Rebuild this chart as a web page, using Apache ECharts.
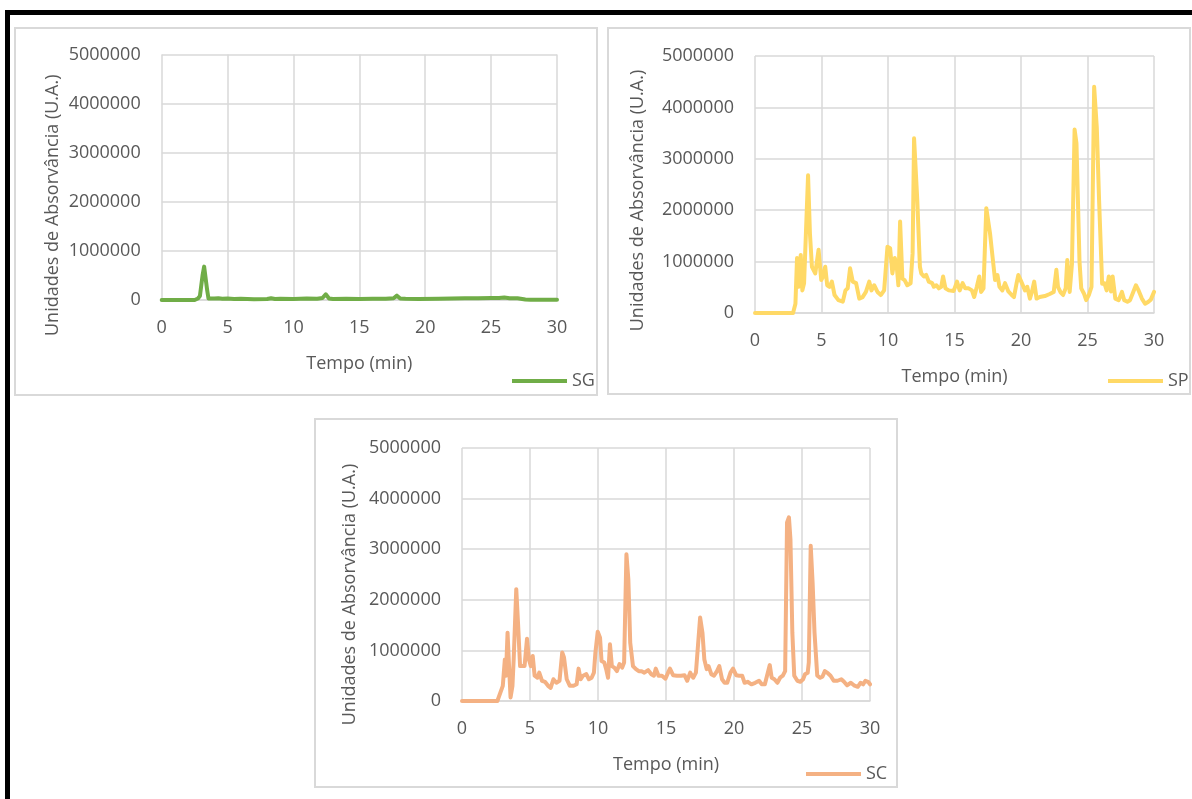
<!DOCTYPE html>
<html>
<head>
<meta charset="utf-8">
<script src="https://cdn.jsdelivr.net/npm/echarts@6/dist/echarts.min.js"></script>
<style>
html,body{margin:0;padding:0;background:#fff;}
#chart{width:1192px;height:799px;}
</style>
</head>
<body>
<div id="chart"></div>
<script>
// ---- Data ----
const seriesNames = ['SG', 'SP', 'SC'];
const xAxisTitle = 'Tempo (min)';
const yAxisTitle = 'Unidades de Absorvância (U.A.)';

const sgTime = [0, 1, 2, 2.5, 2.75, 2.9, 3.1, 3.22, 3.33, 3.45, 3.55, 3.7, 4.0, 4.3, 4.6, 5.0, 5.5, 6.0, 7.0, 8.0, 8.3, 8.6, 9.0, 10.0, 11.0, 11.8, 12.2, 12.45, 12.7, 13.0, 14.0, 15.0, 16.0, 17.0, 17.6, 17.85, 18.1, 18.5, 19.5, 21.0, 22.0, 23.0, 24.0, 25.0, 25.6, 26.0, 26.4, 27.0, 27.6, 28.0, 29.0, 30.0];
const sgValues = [0, 0, 0, 0, 30000, 80000, 500000, 680000, 660000, 200000, 30000, 40000, 30000, 35000, 25000, 30000, 20000, 25000, 15000, 20000, 35000, 20000, 25000, 20000, 30000, 25000, 40000, 115000, 30000, 20000, 25000, 20000, 25000, 25000, 35000, 88000, 30000, 25000, 20000, 25000, 30000, 35000, 38000, 40000, 42000, 50000, 35000, 35000, 10000, 5000, 5000, 5000];

const spTime = [0, 1, 2, 2.86, 3.04, 3.16, 3.29, 3.44, 3.56, 3.69, 3.99, 4.13, 4.28, 4.53, 4.78, 4.98, 5.1, 5.28, 5.43, 5.6, 5.78, 5.98, 6.27, 6.6, 6.8, 6.97, 7.15, 7.35, 7.6, 7.84, 8.09, 8.34, 8.59, 8.76, 8.96, 9.21, 9.46, 9.71, 9.96, 10.16, 10.33, 10.51, 10.66, 10.78, 10.91, 11.08, 11.25, 11.45, 11.7, 11.85, 11.96, 12.2, 12.4, 12.5, 12.7, 12.87, 13.07, 13.32, 13.45, 13.64, 13.82, 14.0, 14.14, 14.32, 14.57, 14.94, 15.19, 15.39, 15.61, 15.81, 16.06, 16.31, 16.48, 16.68, 16.86, 17.0, 17.18, 17.39, 17.67, 17.9, 18.05, 18.23, 18.38, 18.6, 18.8, 19.05, 19.3, 19.47, 19.67, 19.8, 19.97, 20.1, 20.3, 20.47, 20.67, 20.82, 20.99, 21.17, 21.41, 21.79, 22.16, 22.46, 22.66, 22.78, 22.98, 23.16, 23.36, 23.48, 23.66, 23.83, 24.03, 24.17, 24.4, 24.53, 24.73, 24.9, 25.1, 25.3, 25.5, 25.7, 25.87, 26.1, 26.27, 26.44, 26.6, 26.77, 26.89, 27.09, 27.34, 27.59, 27.76, 28.0, 28.2, 28.44, 28.64, 28.84, 29.09, 29.33, 29.58, 29.76, 30.0];
const spValues = [0, 0, 0, 0, 180000, 1070000, 510000, 1130000, 440000, 580000, 2680000, 1550000, 900000, 770000, 1230000, 640000, 700000, 900000, 540000, 510000, 610000, 350000, 250000, 220000, 440000, 480000, 870000, 610000, 580000, 280000, 310000, 410000, 610000, 440000, 540000, 410000, 350000, 440000, 1290000, 1260000, 770000, 1070000, 900000, 540000, 1780000, 670000, 640000, 540000, 580000, 1160000, 3400000, 2200000, 900000, 770000, 710000, 740000, 610000, 580000, 510000, 540000, 480000, 510000, 710000, 480000, 440000, 430000, 610000, 440000, 580000, 480000, 480000, 440000, 310000, 510000, 710000, 410000, 480000, 2040000, 1550000, 1000000, 640000, 740000, 510000, 440000, 580000, 420000, 350000, 310000, 580000, 740000, 640000, 670000, 440000, 510000, 280000, 410000, 610000, 280000, 310000, 330000, 370000, 410000, 840000, 510000, 400000, 350000, 480000, 1030000, 410000, 950000, 3570000, 3300000, 1000000, 480000, 380000, 250000, 350000, 510000, 4400000, 3600000, 2200000, 570000, 580000, 440000, 710000, 420000, 710000, 280000, 250000, 410000, 250000, 220000, 250000, 410000, 540000, 440000, 280000, 180000, 220000, 260000, 410000];

const scTime = [0, 1, 2, 2.6, 2.73, 3.0, 3.15, 3.23, 3.35, 3.46, 3.57, 3.71, 3.8, 3.99, 4.13, 4.27, 4.41, 4.6, 4.78, 4.92, 5.06, 5.2, 5.34, 5.54, 5.68, 5.88, 6.1, 6.33, 6.52, 6.72, 6.94, 7.17, 7.37, 7.5, 7.7, 7.93, 8.2, 8.43, 8.57, 8.72, 8.9, 9.14, 9.33, 9.53, 9.7, 9.81, 9.98, 10.15, 10.26, 10.46, 10.6, 10.74, 10.88, 11.02, 11.2, 11.39, 11.58, 11.78, 11.92, 12.09, 12.23, 12.37, 12.57, 12.79, 13.0, 13.21, 13.41, 13.69, 13.92, 14.11, 14.25, 14.45, 14.7, 14.96, 15.15, 15.29, 15.52, 15.8, 16.1, 16.36, 16.56, 16.78, 17.0, 17.2, 17.35, 17.51, 17.68, 17.82, 17.99, 18.13, 18.33, 18.53, 18.75, 18.92, 19.12, 19.31, 19.5, 19.74, 19.93, 20.16, 20.38, 20.6, 20.78, 21.0, 21.28, 21.56, 21.84, 22.04, 22.27, 22.63, 22.77, 22.97, 23.19, 23.39, 23.59, 23.76, 23.9, 24.04, 24.15, 24.29, 24.43, 24.66, 24.88, 25.08, 25.22, 25.42, 25.5, 25.64, 25.78, 25.92, 26.12, 26.34, 26.5, 26.68, 26.9, 27.1, 27.33, 27.61, 27.89, 28.09, 28.31, 28.59, 28.82, 29.1, 29.3, 29.49, 29.66, 29.86, 30.0];
const scValues = [0, 0, 0, 0, 0, 300000, 820000, 500000, 1350000, 690000, 70000, 300000, 820000, 2210000, 1480000, 690000, 660000, 690000, 1230000, 820000, 690000, 890000, 500000, 460000, 560000, 400000, 380000, 300000, 260000, 430000, 360000, 400000, 960000, 860000, 430000, 300000, 300000, 330000, 640000, 430000, 500000, 530000, 430000, 460000, 560000, 960000, 1370000, 1250000, 790000, 760000, 630000, 460000, 1120000, 690000, 660000, 590000, 730000, 660000, 760000, 2900000, 2410000, 1150000, 690000, 630000, 590000, 590000, 560000, 610000, 530000, 500000, 640000, 500000, 500000, 440000, 560000, 640000, 510000, 500000, 500000, 510000, 400000, 560000, 460000, 560000, 1090000, 1650000, 1350000, 820000, 630000, 690000, 530000, 500000, 590000, 690000, 430000, 360000, 360000, 560000, 640000, 510000, 500000, 500000, 360000, 380000, 330000, 360000, 400000, 330000, 330000, 710000, 460000, 430000, 360000, 460000, 500000, 590000, 3530000, 3630000, 3200000, 1350000, 500000, 400000, 380000, 430000, 530000, 560000, 760000, 3070000, 2340000, 1350000, 500000, 460000, 480000, 590000, 550000, 500000, 400000, 400000, 430000, 380000, 310000, 360000, 310000, 280000, 360000, 330000, 400000, 380000, 330000];

const xTickInterval = 5;
const yTickInterval = 1000000;

// ---- Layout / style ----
const textColor = '#595959';
const gridColor = '#D9D9D9';
const lineColors = ['#70AD47', '#FFD966', '#F4B183'];
const font = 'Open Sans';

const grids = [
  {left: 161.7, top: 54.5, width: 395.3, height: 245.5},
  {left: 755, top: 56, width: 399, height: 257},
  {left: 462, top: 448, width: 408, height: 253}
];
const yNameGaps = [100, 108, 103];
// shift of the y-axis title downwards along the axis (as in the reference)
const yNameShift = [56, 32, 40];
const legendPos = [
  {left: 507, top: 367},
  {left: 1103, top: 367},
  {left: 801, top: 760}
];
const boxes = [
  {x: 15, y: 28, w: 582, h: 367},
  {x: 608, y: 28, w: 582, h: 366},
  {x: 315, y: 419, w: 582, h: 368}
];

const seriesData = [
  sgTime.map((t, i) => [t, sgValues[i]]),
  spTime.map((t, i) => [t, spValues[i]]),
  scTime.map((t, i) => [t, scValues[i]])
];

const chart = echarts.init(document.getElementById('chart'), null, {renderer: 'canvas'});

const graphic = [];
boxes.forEach(b => {
  graphic.push({
    type: 'rect', z: -10, silent: true,
    shape: {x: b.x, y: b.y, width: b.w, height: b.h},
    style: {fill: '#fff', stroke: gridColor, lineWidth: 2}
  });
});
// black frame lines (top and left)
graphic.push({type: 'rect', z: -5, silent: true, shape: {x: 5, y: 10, width: 1187, height: 5}, style: {fill: '#000'}});
graphic.push({type: 'rect', z: -5, silent: true, shape: {x: 5, y: 10, width: 5, height: 789}, style: {fill: '#000'}});

const option = {
  animation: false,
  backgroundColor: '#fff',
  textStyle: {fontFamily: font},
  graphic: graphic,
  grid: grids.map(g => Object.assign({containLabel: false}, g)),
  legend: seriesNames.map((n, i) => ({
    data: [n],
    left: legendPos[i].left,
    top: legendPos[i].top,
    icon: 'rect',
    itemWidth: 55,
    itemHeight: 4,
    textStyle: {fontSize: 18, color: textColor, fontFamily: font},
    selectedMode: false
  })),
  xAxis: grids.map((g, i) => ({
    gridIndex: i,
    type: 'value',
    min: 0, max: 30, interval: xTickInterval,
    name: xAxisTitle,
    nameLocation: 'middle',
    nameGap: 55,
    nameTextStyle: {fontSize: 18, color: textColor, fontFamily: font},
    axisLine: {show: true, lineStyle: {color: gridColor, width: 1.5}},
    axisTick: {show: false},
    axisLabel: {fontSize: 18, color: textColor, margin: 19, fontFamily: font},
    splitLine: {show: true, lineStyle: {color: gridColor, width: 1.5}}
  })),
  yAxis: grids.map((g, i) => ({
    gridIndex: i,
    type: 'value',
    min: 0, max: 5000000, interval: yTickInterval,
    name: yAxisTitle,
    nameLocation: 'middle',
    nameRotate: 90,
    nameGap: yNameGaps[i],
    nameTextStyle: {fontSize: 18, color: textColor, fontFamily: font, padding: [0, yNameShift[i], 0, 0]},
    axisLine: {show: false},
    axisTick: {show: false},
    axisLabel: {fontSize: 18, color: textColor, margin: 21, fontFamily: font, formatter: v => String(v)},
    splitLine: {show: true, lineStyle: {color: gridColor, width: 1.5}}
  })),
  series: seriesNames.map((n, i) => ({
    name: n,
    type: 'line',
    xAxisIndex: i,
    yAxisIndex: i,
    data: seriesData[i],
    showSymbol: false,
    symbol: 'none',
    color: lineColors[i],
    lineStyle: {width: 4, color: lineColors[i], join: 'round', cap: 'round'}
  }))
};
chart.setOption(option);
</script>
</body>
</html>
